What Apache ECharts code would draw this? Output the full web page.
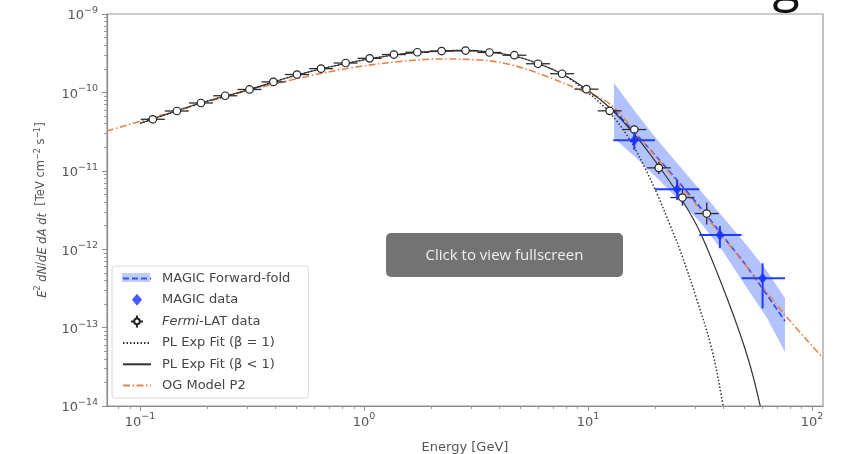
<!DOCTYPE html>
<html><head><meta charset="utf-8">
<script src="https://cdn.jsdelivr.net/npm/echarts@6/dist/echarts.min.js"></script>
<style>html,body{margin:0;padding:0;background:#fff}#c{width:841px;height:454px}</style>
</head><body><div id="c"></div>
<script>
// ---------- data (Energy in GeV, E^2 dN/dE in TeV cm^-2 s^-1) ----------
const fermiE = [0.114,0.146,0.187,0.240,0.308,0.394,0.502,0.643,0.828,1.06,1.36,1.73,2.22,2.84,3.63,4.69,5.98,7.66,9.84,12.5,16.1,20.7,26.4,33.9];
const fermiF = [4.54e-11,5.79e-11,7.33e-11,9.06e-11,1.09e-10,1.36e-10,1.69e-10,2.01e-10,2.37e-10,2.72e-10,3.04e-10,3.25e-10,3.37e-10,3.42e-10,3.23e-10,2.98e-10,2.32e-10,1.73e-10,1.10e-10,5.82e-11,3.36e-11,1.09e-11,4.56e-12,2.85e-12];
const fermiRelErr = [0.03,0.03,0.03,0.03,0.03,0.03,0.03,0.03,0.03,0.03,0.03,0.03,0.03,0.04,0.04,0.05,0.06,0.07,0.08,0.10,0.12,0.20,0.27,0.38];
const fermiHalfBinDex = 0.0535;

const magicE    = [16.1,25.0,38.8,60.2];
const magicEmin = [12.97,19.91,31.4,48.5];
const magicEmax = [19.91,31.4,48.5,75.8];
const magicF    = [2.45e-11,5.81e-12,1.52e-12,4.26e-13];
const magicFlo  = [1.84e-11,4.24e-12,1.03e-12,1.76e-13];
const magicFhi  = [3.15e-11,7.63e-12,1.98e-12,6.61e-13];

const ffE  = [13.06,16.05,19.91,24.96,31.62,39.65,50.22,62.97,75.77];
const ffF  = [5.97e-11,3.13e-11,1.59e-11,7.63e-12,3.45e-12,1.52e-12,6.47e-13,2.61e-13,1.21e-13];
const ffUp = [1.32e-10,5.97e-11,2.70e-11,1.26e-11,5.69e-12,2.65e-12,1.20e-12,5.27e-13,2.39e-13];
const ffLo = [2.62e-11,1.55e-11,8.58e-12,4.50e-12,2.22e-12,9.77e-13,3.50e-13,1.33e-13,4.89e-14];

const ogE = [0.0712,0.113,0.185,0.310,0.518,0.866,1.448,2.184,3.295,4.485,6.297,9.21,12.54,17.07,23.96,32.61,51.27,75.77,112];
const ogF = [3.22e-11,4.72e-11,7.11e-11,1.073e-10,1.527e-10,2.047e-10,2.478e-10,2.667e-10,2.59e-10,2.27e-10,1.667e-10,1.073e-10,7.11e-11,2.62e-11,8.33e-12,2.90e-12,5.93e-13,1.45e-13,4.09e-14];

const plLtE = [0.1,0.114,0.187,0.308,0.502,0.828,1.36,2.22,2.84,3.61,4.67,5.98,7.66,9.80,12.54,16.05,20.54,26.28,31.62,41.74,51.27,58.6,63.6];
const plLtF = [4.01e-11,4.58e-11,7.32e-11,1.089e-10,1.667e-10,2.336e-10,3.00e-10,3.374e-10,3.42e-10,3.276e-10,2.912e-10,2.336e-10,1.717e-10,1.105e-10,6.32e-11,2.95e-11,1.186e-11,4.24e-12,1.657e-12,2.385e-13,4.47e-14,1.03e-14,2.75e-15];
const pl1E  = [0.1,0.114,0.187,0.308,0.502,0.828,1.36,2.22,2.84,3.61,4.67,5.98,7.66,9.80,12.54,15.4,17.97,20.54,23.23,25.75,30.66,35.78,40.06,43.05];
const pl1F  = [4.01e-11,4.58e-11,7.32e-11,1.089e-10,1.667e-10,2.336e-10,3.00e-10,3.374e-10,3.42e-10,3.276e-10,2.912e-10,2.336e-10,1.717e-10,1.042e-10,5.46e-11,2.47e-11,1.086e-11,4.77e-12,2.035e-12,9.77e-13,2.25e-13,5.18e-14,1.03e-14,2.75e-15];

const xMajorTicks = [0.1,1,10,100];
const xMinorTicks = [0.08,0.09,0.2,0.3,0.4,0.5,0.6,0.7,0.8,0.9,2,3,4,5,6,7,8,9,20,30,40,50,60,70,80,90];
const yMajorTicks = [1e-14,1e-13,1e-12,1e-11,1e-10,1e-9];
const yMinorTicks = [];
[-14,-13,-12,-11,-10].forEach(p => { for (let m = 2; m <= 9; m++) yMinorTicks.push(m * Math.pow(10, p)); });

const legendNames = ['MAGIC Forward-fold','MAGIC data','Fermi-LAT data','PL Exp Fit (\u03b2 = 1)','PL Exp Fit (\u03b2 < 1)','OG Model P2'];

// ---------- chart ----------
const FONT = 'DejaVu Sans';
const TXT = '#555';
const chart = echarts.init(document.getElementById('c'), null, {renderer:'canvas'});

function powLabel(v) {
  const e = Math.round(Math.log10(v));
  return '{b|10}{s|' + (e < 0 ? '\u2212' : '') + Math.abs(e) + '}';
}
const labRich = {
  b: {fontSize: 13, color: TXT, fontFamily: FONT, lineHeight: 17, verticalAlign: 'bottom'},
  s: {fontSize: 9.5, color: TXT, fontFamily: FONT, lineHeight: 17, verticalAlign: 'top'}
};

function errRender(color, width) {
  return function (params, api) {
    const x = api.value(0), y = api.value(1);
    const pL = api.coord([api.value(2), y]), pR = api.coord([api.value(3), y]);
    const pB = api.coord([x, api.value(4)]), pT = api.coord([x, api.value(5)]);
    return {type: 'group', children: [
      {type: 'line', shape: {x1: pL[0], y1: pL[1], x2: pR[0], y2: pR[1]}, style: {stroke: color, lineWidth: width}},
      {type: 'line', shape: {x1: pB[0], y1: pB[1], x2: pT[0], y2: pT[1]}, style: {stroke: color, lineWidth: width}}
    ]};
  };
}

const fermiErrData = fermiE.map((e, i) => [e, fermiF[i], e / Math.pow(10, fermiHalfBinDex), e * Math.pow(10, fermiHalfBinDex), fermiF[i] / (1 + fermiRelErr[i]), fermiF[i] * (1 + fermiRelErr[i])]);
const magicErrData = magicE.map((e, i) => [e, magicF[i], magicEmin[i], magicEmax[i], magicFlo[i], magicFhi[i]]);
const bandData = ffE.map((e, i) => [e, ffUp[i], ffLo[i]]);

const xMin = 0.0712, xMax = 112;
const hideSym = {opacity: 0, color: 'rgba(0,0,0,0)', borderWidth: 0};

const option = {
  animation: false,
  backgroundColor: '#fff',
  grid: {left: 107, right: 18, top: 14, bottom: 48, show: true, borderColor: '#9a9a9a', borderWidth: 1.2, backgroundColor: 'transparent', outerBoundsMode: 'none', containLabel: false},
  xAxis: [
    {type: 'log', logBase: 10, min: xMin, max: xMax, position: 'bottom',
     name: 'Energy [GeV]', nameLocation: 'middle', nameGap: 35,
     nameTextStyle: {color: TXT, fontSize: 13, fontFamily: FONT},
     axisLine: {show: true, onZero: false, lineStyle: {color: '#8a8a8a', width: 1.2}},
     axisTick: {show: true, customValues: xMajorTicks, length: 5, lineStyle: {color: '#8a8a8a'}},
     axisLabel: {show: true, customValues: xMajorTicks, formatter: powLabel, rich: labRich, margin: 6},
     splitLine: {show: false}},
    {type: 'log', logBase: 10, min: xMin, max: xMax, position: 'bottom',
     axisLine: {show: false}, axisLabel: {show: false}, splitLine: {show: false},
     axisTick: {show: true, customValues: xMinorTicks, length: 3, lineStyle: {color: '#9a9a9a'}}}
  ],
  yAxis: [
    {type: 'log', logBase: 10, min: 1e-14, max: 1e-9, position: 'left',
     name: '{i|E}{s|2} {i|dN}/{i|dE dA dt}  [TeV cm{s|\u22122} s{s|\u22121}]',
     nameLocation: 'middle', nameGap: 58,
     nameTextStyle: {color: TXT, fontSize: 11.5, fontFamily: FONT,
       rich: {i: {fontStyle: 'italic', fontSize: 11.5, color: TXT, fontFamily: FONT, lineHeight: 15, verticalAlign: 'bottom'},
              s: {fontSize: 8, color: TXT, fontFamily: FONT, lineHeight: 15, verticalAlign: 'top'}}},
     axisLine: {show: true, onZero: false, lineStyle: {color: '#8a8a8a', width: 1.2}},
     axisTick: {show: true, customValues: yMajorTicks, length: 5, lineStyle: {color: '#8a8a8a'}},
     axisLabel: {show: true, customValues: yMajorTicks, formatter: powLabel, rich: labRich, margin: 9},
     splitLine: {show: false}},
    {type: 'log', logBase: 10, min: 1e-14, max: 1e-9, position: 'left',
     axisLine: {show: false}, axisLabel: {show: false}, splitLine: {show: false},
     axisTick: {show: true, customValues: yMinorTicks, length: 3, lineStyle: {color: '#9a9a9a'}}}
  ],
  legend: {
    data: [
      {name: legendNames[0], itemStyle: hideSym},
      {name: legendNames[1], icon: 'path://M5,0L10,6L5,12L0,6Z'},
      {name: legendNames[2], icon: 'path://M3.2,6A2.8,2.8 0 1 0 8.8,6A2.8,2.8 0 1 0 3.2,6ZM0,6L3.2,6M8.8,6L12,6M6,0L6,3.2M6,8.8L6,12'},
      {name: legendNames[3], itemStyle: hideSym},
      {name: legendNames[4], itemStyle: hideSym},
      {name: legendNames[5], itemStyle: hideSym}
    ],
    symbolKeepAspect: true,
    orient: 'vertical', left: 112, top: 266,
    padding: [6, 18, 6, 10], itemWidth: 28, itemHeight: 12, itemGap: 8.2,
    backgroundColor: 'rgba(255,255,255,0.85)', borderColor: '#d8d8d8', borderWidth: 1, borderRadius: 3,
    selectedMode: false,
    textStyle: {color: '#444', fontSize: 13, fontFamily: FONT, padding: [0, 0, 0, 6],
      rich: {it: {fontStyle: 'italic', color: '#444', fontSize: 13, fontFamily: FONT}}},
    formatter: n => n === 'Fermi-LAT data' ? '{it|Fermi}-LAT data' : n
  },
  series: [
    {name: 'ffBand', type: 'custom', xAxisIndex: 0, yAxisIndex: 0, z: 1, silent: true,
     data: bandData, encode: {x: 0, y: [1, 2]},
     renderItem: function (params, api) {
       if (params.dataIndex !== 0) return null;
       const pts = [];
       for (let i = 0; i < bandData.length; i++) pts.push(api.coord([bandData[i][0], bandData[i][1]]));
       for (let i = bandData.length - 1; i >= 0; i--) pts.push(api.coord([bandData[i][0], bandData[i][2]]));
       return {type: 'polygon', shape: {points: pts}, style: {fill: 'rgba(70,110,255,0.42)'}};
     }},
    {name: 'MAGIC Forward-fold', type: 'line', z: 2, symbol: 'none', smooth: 0.3,
     data: ffE.map((e, i) => [e, ffF[i]]),
     lineStyle: {color: '#2a48ff', width: 1.6, type: [6, 3]}, itemStyle: {color: '#2a48ff'}},
    {name: 'OG Model P2', type: 'line', z: 3, symbol: 'none', smooth: 0.35,
     data: ogE.map((e, i) => [e, ogF[i]]),
     lineStyle: {color: '#e5844c', width: 1.6, type: [7, 2.5, 1.5, 2.5]}, itemStyle: {color: '#e5844c'}},
    {name: 'PL Exp Fit (\u03b2 < 1)', type: 'line', z: 3, symbol: 'none', smooth: 0.35,
     data: plLtE.map((e, i) => [e, plLtF[i]]),
     lineStyle: {color: '#333', width: 1.2, type: 'solid'}, itemStyle: {color: '#333'}},
    {name: 'PL Exp Fit (\u03b2 = 1)', type: 'line', z: 3, symbol: 'none', smooth: 0.35,
     data: pl1E.map((e, i) => [e, pl1F[i]]),
     lineStyle: {color: '#333', width: 1.5, type: [1.5, 2]}, itemStyle: {color: '#333'}},
    {name: 'fermiErr', type: 'custom', z: 4, silent: true, data: fermiErrData,
     encode: {x: [0, 2, 3], y: [1, 4, 5]}, renderItem: errRender('#2b2b2b', 1.3)},
    {name: 'Fermi-LAT data', type: 'scatter', z: 5, symbol: 'circle', symbolSize: 7.5,
     data: fermiE.map((e, i) => [e, fermiF[i]]),
     itemStyle: {color: '#ffffff', borderColor: '#222', borderWidth: 1.2, opacity: 1}},
    {name: 'magicErr', type: 'custom', z: 6, silent: true, data: magicErrData,
     encode: {x: [0, 2, 3], y: [1, 4, 5]}, renderItem: errRender('#1f3cff', 2)},
    {name: 'MAGIC data', type: 'scatter', z: 7, symbol: 'diamond', symbolSize: [9, 11],
     data: magicE.map((e, i) => [e, magicF[i]]),
     itemStyle: {color: '#1530ff'}}
  ],
  graphic: [
    {type: 'rect', x: 122, y: 273, z: 50, shape: {width: 28, height: 9}, style: {fill: 'rgba(70,110,255,0.35)'}},
    {type: 'rect', left: 386, top: 233, z: 100, shape: {width: 237, height: 44, r: 5}, style: {fill: '#737373'}},
    {type: 'text', x: 504.5, y: 255.5, z: 101, style: {text: 'Click to view fullscreen', fill: '#f0f0f0', font: '15px "Open Sans"', textAlign: 'center', textVerticalAlign: 'middle'}},
    {type: 'text', x: 786, y: 12, z: 101, style: {text: 'g', fill: '#111', font: '50px "Open Sans"', textAlign: 'center', textVerticalAlign: 'bottom'}}
  ]
};
chart.setOption(option);
</script>
</body></html>
